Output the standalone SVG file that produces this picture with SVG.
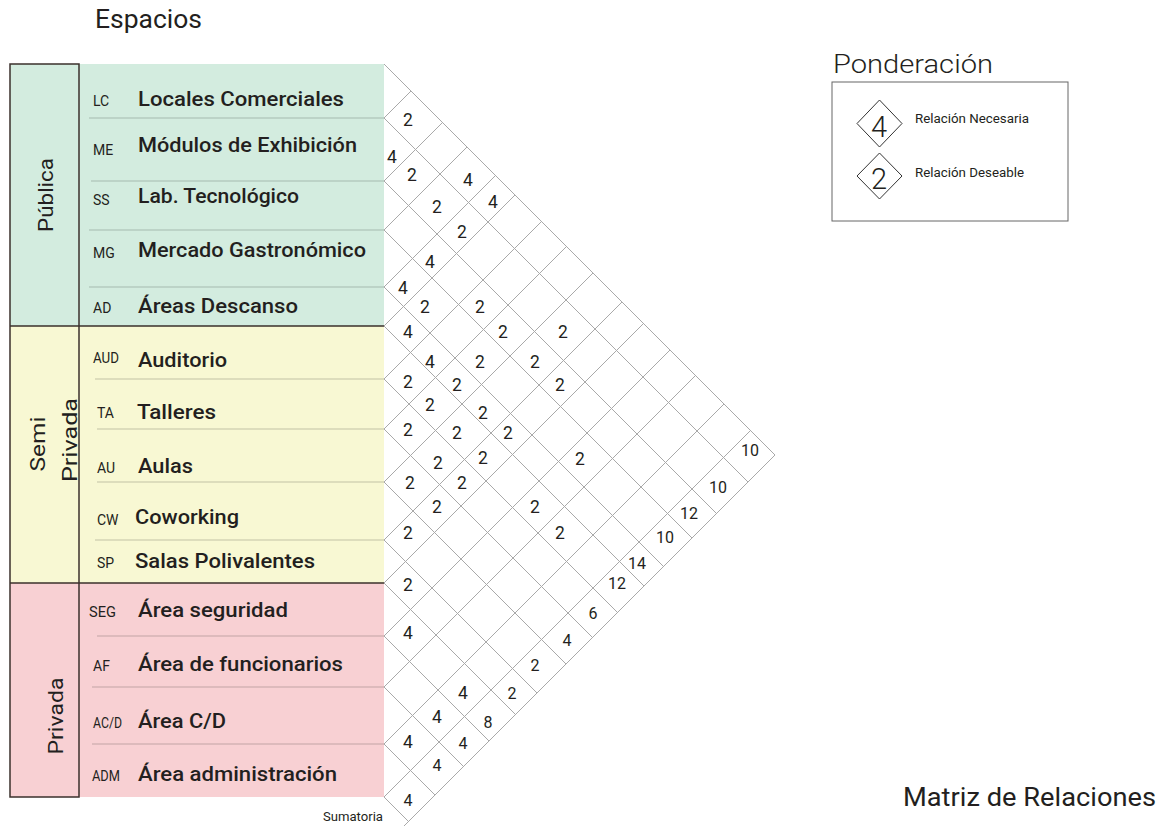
<svg xmlns="http://www.w3.org/2000/svg" width="1175" height="826" viewBox="0 0 1175 826">
<style>
text{font-family:Roboto,"Liberation Sans",sans-serif;fill:#231f20}
.lab{font-size:19.5px;font-weight:500}
.ab{font-size:14px}
.cat{font-size:20px}
.num{font-size:17.5px;text-anchor:middle}
.sum{font-size:16px;text-anchor:middle}
.sep{stroke:#000;stroke-opacity:.14;stroke-width:1.5}
.dark{stroke:#3b302c;stroke-width:1.5;fill:none}
.grid{stroke:#a9a9a9;stroke-width:1;fill:none}
.leg{font-size:12.5px}
.ttl{font-size:25px}
</style>
<rect width="1175" height="826" fill="#fff"/>

<g id="titles">
<text class="ttl" x="95" y="28" textLength="107" lengthAdjust="spacingAndGlyphs">Espacios</text>
<text x="903" y="806" style="font-size:25px" textLength="253" lengthAdjust="spacingAndGlyphs">Matriz de Relaciones</text>
<text x="323" y="821" style="font-size:12.5px" textLength="60" lengthAdjust="spacingAndGlyphs">Sumatoria</text>
</g>

<g id="sections">
<rect x="10" y="64" width="374" height="262" fill="#d3ecdf"/>
<rect x="10" y="326" width="374" height="257" fill="#f8f8d3"/>
<rect x="10" y="583" width="374" height="214" fill="#f8d0d3"/>
<path class="sep" d="M89 118H384M91 181H384M89 230H384M89 287H384M95 379H384M97 429H384M97 482H384M95 540H384M97 636H384M92 687H384M92 744H384"/>
<rect class="dark" x="10" y="64" width="69" height="733"/>
<path class="dark" d="M10 326H384M10 583H384"/>
</g>

<g id="cat-publica"><text class="cat" transform="translate(53,195) rotate(-90)" text-anchor="middle" textLength="74" lengthAdjust="spacingAndGlyphs">Pública</text></g>
<g id="cat-semiprivada">
<text class="cat" transform="translate(45,444) rotate(-90)" text-anchor="middle" textLength="55" lengthAdjust="spacingAndGlyphs">Semi</text>
<text class="cat" transform="translate(77,440) rotate(-90)" text-anchor="middle" textLength="84" lengthAdjust="spacingAndGlyphs">Privada</text>
</g>
<g id="cat-privada"><text class="cat" transform="translate(63,716) rotate(-90)" text-anchor="middle" textLength="77" lengthAdjust="spacingAndGlyphs">Privada</text></g>

<g id="row-LC"><text class="ab" x="93" y="106">LC</text><text class="lab" x="138" y="106" textLength="206" lengthAdjust="spacingAndGlyphs">Locales Comerciales</text></g>
<g id="row-ME"><text class="ab" x="93" y="155">ME</text><text class="lab" x="138" y="152" textLength="219" lengthAdjust="spacingAndGlyphs">Módulos de Exhibición</text></g>
<g id="row-SS"><text class="ab" x="93" y="205">SS</text><text class="lab" x="138" y="203" textLength="161" lengthAdjust="spacingAndGlyphs">Lab. Tecnológico</text></g>
<g id="row-MG"><text class="ab" x="93" y="258">MG</text><text class="lab" x="138" y="257" textLength="228" lengthAdjust="spacingAndGlyphs">Mercado Gastronómico</text></g>
<g id="row-AD"><text class="ab" x="93" y="313">AD</text><text class="lab" x="138" y="313" textLength="160" lengthAdjust="spacingAndGlyphs">Áreas Descanso</text></g>
<g id="row-AUD"><text class="ab" x="93" y="363" textLength="26" lengthAdjust="spacingAndGlyphs">AUD</text><text class="lab" x="138" y="367" textLength="89" lengthAdjust="spacingAndGlyphs">Auditorio</text></g>
<g id="row-TA"><text class="ab" x="97" y="418">TA</text><text class="lab" x="137" y="419" textLength="79" lengthAdjust="spacingAndGlyphs">Talleres</text></g>
<g id="row-AU"><text class="ab" x="97" y="473">AU</text><text class="lab" x="138" y="473" textLength="55" lengthAdjust="spacingAndGlyphs">Aulas</text></g>
<g id="row-CW"><text class="ab" x="97" y="525">CW</text><text class="lab" x="135" y="524" textLength="104" lengthAdjust="spacingAndGlyphs">Coworking</text></g>
<g id="row-SP"><text class="ab" x="97" y="568">SP</text><text class="lab" x="135" y="568" textLength="180" lengthAdjust="spacingAndGlyphs">Salas Polivalentes</text></g>
<g id="row-SEG"><text class="ab" x="89" y="617" textLength="27" lengthAdjust="spacingAndGlyphs">SEG</text><text class="lab" x="138" y="617" textLength="150" lengthAdjust="spacingAndGlyphs">Área seguridad</text></g>
<g id="row-AF"><text class="ab" x="93" y="671">AF</text><text class="lab" x="138" y="671" textLength="205" lengthAdjust="spacingAndGlyphs">Área de funcionarios</text></g>
<g id="row-ACD"><text class="ab" x="93" y="728" textLength="29" lengthAdjust="spacingAndGlyphs">AC/D</text><text class="lab" x="138" y="728" textLength="88" lengthAdjust="spacingAndGlyphs">Área C/D</text></g>
<g id="row-ADM"><text class="ab" x="92" y="781" textLength="28" lengthAdjust="spacingAndGlyphs">ADM</text><text class="lab" x="138" y="781" textLength="199" lengthAdjust="spacingAndGlyphs">Área administración</text></g>

<g id="connectors">
<path class="grid" d="M384 64L775 455M384 118L748 482M384 181L716.5 513.5M384 230L692 538M384 287L663.5 566.5M384 326L644 586M384 379L617.5 612.5M384 429L592.5 637.5M384 482L566 664M384 540L537 693M384 583L515.5 714.5M384 636L489 741M384 687L463.5 766.5M384 744L435 795M384 797L408.5 821.5"/>
<path class="grid" d="M384 118L411 91M384 181L442.5 122.5M384 230L467 147M384 287L495.5 175.5M384 326L515 195M384 379L541.5 221.5M384 429L566.5 246.5M384 482L593 273M384 540L622 302M384 583L643.5 323.5M384 636L670 350M384 687L695.5 375.5M384 744L724 404M384 797L750.5 430.5M384 846L775 455"/>
</g>

<g id="values">
<text class="num" x="408" y="126">2</text>
<text class="num" x="392" y="163">4</text>
<text class="num" x="412" y="181">2</text>
<text class="num" x="468" y="186">4</text>
<text class="num" x="493" y="208">4</text>
<text class="num" x="437" y="213">2</text>
<text class="num" x="462" y="238">2</text>
<text class="num" x="430" y="268">4</text>
<text class="num" x="403" y="294">4</text>
<text class="num" x="425" y="313">2</text>
<text class="num" x="480" y="313">2</text>
<text class="num" x="408" y="338">4</text>
<text class="num" x="503" y="338">2</text>
<text class="num" x="563" y="338">2</text>
<text class="num" x="430" y="368">4</text>
<text class="num" x="480" y="368">2</text>
<text class="num" x="535" y="368">2</text>
<text class="num" x="408" y="388">2</text>
<text class="num" x="457" y="391">2</text>
<text class="num" x="560" y="391">2</text>
<text class="num" x="430" y="411">2</text>
<text class="num" x="483" y="419">2</text>
<text class="num" x="408" y="436">2</text>
<text class="num" x="457" y="439">2</text>
<text class="num" x="508" y="439">2</text>
<text class="num" x="580" y="465">2</text>
<text class="num" x="438" y="469">2</text>
<text class="num" x="483" y="464">2</text>
<text class="num" x="410" y="489">2</text>
<text class="num" x="462" y="489">2</text>
<text class="num" x="437" y="513">2</text>
<text class="num" x="535" y="513">2</text>
<text class="num" x="408" y="539">2</text>
<text class="num" x="560" y="539">2</text>
<text class="num" x="408" y="591">2</text>
<text class="num" x="408" y="639">4</text>
<text class="num" x="463" y="699">4</text>
<text class="num" x="437" y="723">4</text>
<text class="num" x="408" y="748">4</text>
</g>

<g id="sums">
<text class="sum" x="750" y="456">10</text>
<text class="sum" x="718" y="493">10</text>
<text class="sum" x="689" y="519">12</text>
<text class="sum" x="665" y="543">10</text>
<text class="sum" x="637" y="569">14</text>
<text class="sum" x="617" y="589">12</text>
<text class="sum" x="593" y="619">6</text>
<text class="sum" x="567" y="646">4</text>
<text class="sum" x="535" y="671">2</text>
<text class="sum" x="512" y="699">2</text>
<text class="sum" x="488" y="728">8</text>
<text class="sum" x="463" y="749">4</text>
<text class="sum" x="437" y="771">4</text>
<text class="sum" x="408" y="806">4</text>
</g>

<g id="legend">
<text x="833" y="73" style="font-size:26px;font-weight:300" textLength="160" lengthAdjust="spacingAndGlyphs">Ponderación</text>
<rect x="832" y="82" width="236" height="139" fill="none" stroke="#666" stroke-width="1"/>
<path d="M857 123.5L879.5 100L902 123.5L879.5 147Z" fill="none" stroke="#333" stroke-width="1"/>
<text x="879" y="137" style="font-size:29px;font-weight:300" text-anchor="middle">4</text>
<text class="leg" x="915" y="123" textLength="114" lengthAdjust="spacingAndGlyphs">Relación Necesaria</text>
<path d="M857 176L879.5 153L902 176L879.5 199Z" fill="none" stroke="#333" stroke-width="1"/>
<text x="879" y="189" style="font-size:29px;font-weight:300" text-anchor="middle">2</text>
<text class="leg" x="915" y="177" textLength="109" lengthAdjust="spacingAndGlyphs">Relación Deseable</text>
</g>
</svg>
